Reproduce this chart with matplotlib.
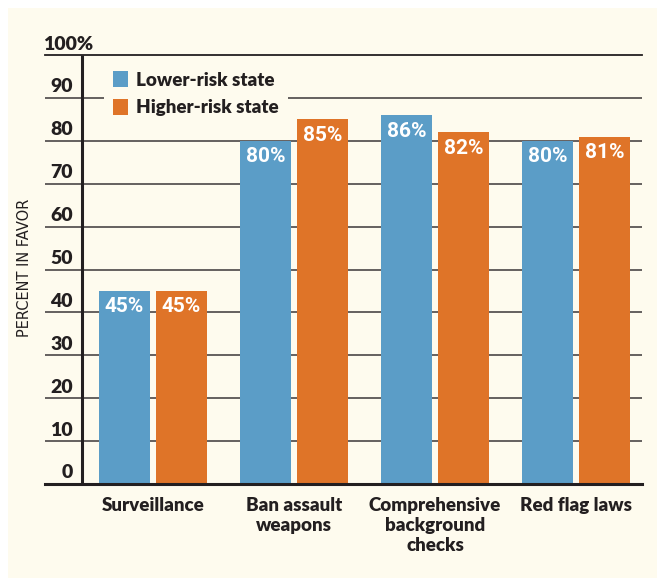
import matplotlib
matplotlib.use("Agg")
import matplotlib.pyplot as plt
from matplotlib.patches import Rectangle, Patch
import matplotlib.transforms as mtransforms

categories = ["Surveillance", "Ban assault\nweapons", "Comprehensive\nbackground\nchecks", "Red flag laws"]
series_names = ["Lower-risk state", "Higher-risk state"]
lower = [45, 80, 86, 80]
higher = [45, 85, 82, 81]
yticks = [0, 10, 20, 30, 40, 50, 60, 70, 80, 90, 100]
ytick_labels = ["0", "10", "20", "30", "40", "50", "60", "70", "80", "90", "100%"]

BLUE = "#5B9DC7"
ORANGE = "#DF7428"
CREAM = "#FEFBEE"
DARK = "#231F20"
FONT = "Lato"
CFONT = "Roboto"

W, H = 657, 578
fig = plt.figure(figsize=(W / 100, H / 100), dpi=100)
fig.patch.set_facecolor("white")
fig.patches.append(Rectangle((8 / W, 0), 1 - 8 / W, 1 - 8 / H, transform=fig.transFigure,
                             facecolor=CREAM, edgecolor="none", zorder=-10))

left, right = 45 / W, 642 / W
bottom, top = (H - 484) / H, (H - 55) / H
ax = fig.add_axes([left, bottom, right - left, top - bottom])
ax.set_facecolor("none")
for s in ax.spines.values():
    s.set_visible(False)

spacing = 141.0
x0 = -(153 - 45) / spacing
x1 = 3 + (642 - 576) / spacing
ax.set_xlim(x0, x1)
ax.set_ylim(0, 100)
ax.set_xticks([])
ax.set_yticks([])

# gridlines
for v in yticks:
    if v == 0:
        ax.axhline(v, color=DARK, lw=2.2, zorder=5, clip_on=False)
    elif v == 100:
        ax.axhline(v, color=DARK, lw=1.3, zorder=1, clip_on=False)
    else:
        ax.axhline(v, color="#4a4646", lw=1.2, zorder=1)

# y axis line
yaxis_x = x0 + (82 - 45) / spacing
ax.plot([yaxis_x, yaxis_x], [0, 100], color=DARK, lw=2.2, zorder=6, solid_capstyle="butt", clip_on=False)

# tick labels
btf = mtransforms.blended_transform_factory(ax.transAxes, ax.transData)
for v, lab in zip(yticks, ytick_labels):
    if lab.endswith("%"):
        ax.text(-0.003, v + 0.4, lab, transform=btf, ha="left", va="bottom", fontsize=14,
                fontweight="heavy", family=FONT, color=DARK, zorder=7)
    else:
        ax.text((73 - 45) / (642 - 45), v + 0.6, lab, transform=btf, ha="right", va="bottom",
                fontsize=14, fontweight="heavy", family=FONT, color=DARK, zorder=7)

# bars
bw = 51 / spacing
off = 28.5 / spacing
xs = list(range(len(categories)))
for vals, color, sign in [(lower, BLUE, -1), (higher, ORANGE, 1)]:
    pos = [x + sign * off for x in xs]
    ax.bar(pos, vals, width=bw, color=color, zorder=3)
    for p, v in zip(pos, vals):
        ax.annotate(f"{v}%", (p, v), xytext=(0, -16), textcoords="offset pixels",
                    ha="center", va="center", fontsize=15, fontweight="bold", family=CFONT,
                    color="white", zorder=8)

# category labels
for x, c in zip(xs, categories):
    ax.annotate(c, (x, 0), xytext=(0, -13), textcoords="offset pixels", ha="center", va="top",
                fontsize=13.5, fontweight="heavy", family=FONT, color=DARK, linespacing=1.2,
                annotation_clip=False)

# y label
fig.text(25 / W, 1 - 268 / H, "PERCENT IN FAVOR", rotation=90, ha="center", va="center",
         fontsize=10.5, family="DejaVu Sans", color=DARK)

# legend
handles = [Patch(facecolor=BLUE, edgecolor="none"), Patch(facecolor=ORANGE, edgecolor="none")]
leg = ax.legend(handles, series_names, loc="upper left",
                bbox_to_anchor=((104 - 45) / (642 - 45), 1 - (62 - 55) / (484 - 55)),
                frameon=True, facecolor=CREAM, edgecolor="none", framealpha=1, fancybox=False,
                prop={"family": FONT, "weight": "heavy", "size": 13.5}, handlelength=0.8,
                handleheight=0.9, handletextpad=0.4, labelspacing=0.55, borderpad=0.5,
                borderaxespad=0)
leg.set_zorder(4)
for t in leg.get_texts():
    t.set_color(DARK)

fig.savefig("out.png", dpi=100, facecolor=fig.get_facecolor())
